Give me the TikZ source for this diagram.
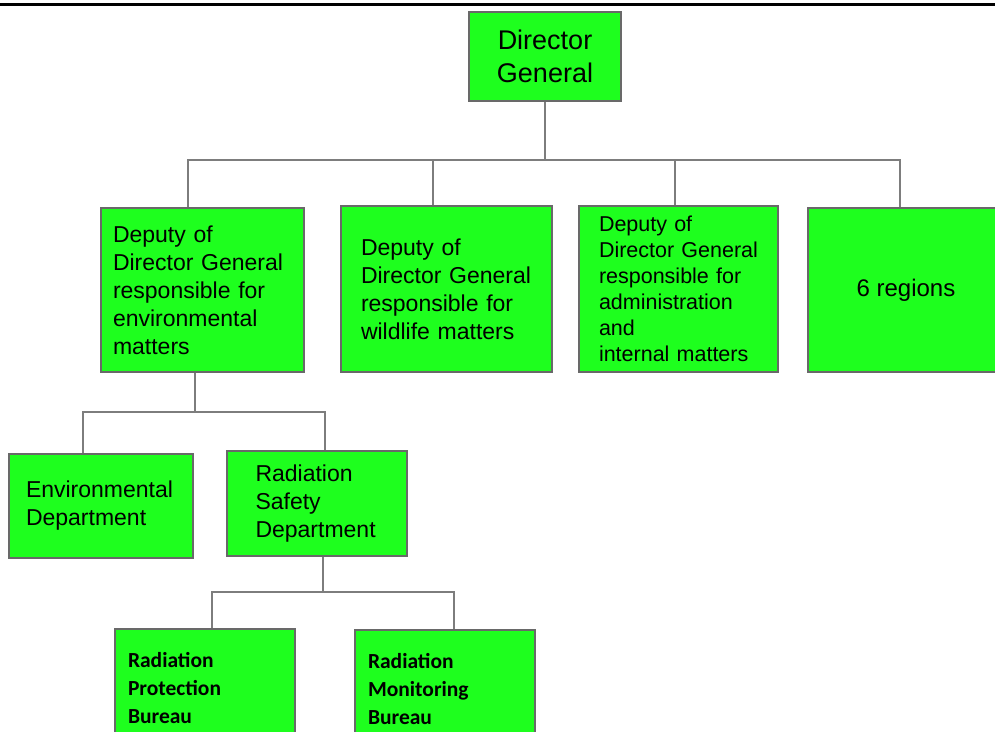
\documentclass[tikz,border=0pt]{standalone}
\usepackage{fontspec}
\setmainfont{Liberation Sans}
\newfontfamily\bureaufont{Carlito}
\usepackage{tikz}
\usetikzlibrary{positioning}
\definecolor{boxgreen}{RGB}{30,255,30}
\definecolor{boxedge}{RGB}{105,105,105}
\definecolor{linkgrey}{RGB}{125,125,125}
\tikzstyle{unit} = [rectangle, draw=boxedge, line width=1.5pt, fill=boxgreen, inner sep=0pt, align=left, font=\fontsize{23}{28}\selectfont]
\tikzstyle{bureau} = [unit, font=\bureaufont\bfseries\fontsize{21.5}{28}\selectfont]
\tikzstyle{link} = [draw=linkgrey, line width=1.8pt]

\begin{document}
\begin{tikzpicture}[x=1pt, y=-1pt]
    \useasboundingbox (0,0) rectangle (995,731);
    \clip (0,0) rectangle (995,731);
    \draw[line width=3pt] (0,4.5) -- (995,4.5);

    \node[unit, align=center, minimum width=152, minimum height=89, font=\fontsize{27}{33}\selectfont] (dg) at (545,56.5) {Director\\General};
    \node[unit, minimum width=203, minimum height=164, text width=179] (envdep) at (202.5,290) {Deputy of\\Director General\\responsible for\\environmental\\matters};
    \node[unit, minimum width=211, minimum height=166, text width=171] (wilddep) at (446.5,289) {Deputy of\\Director General\\responsible for\\wildlife matters};
    \node[unit, minimum width=199, minimum height=166, text width=159, font=\fontsize{21.5}{26}\selectfont] (admindep) at (678.5,289) {Deputy of\\Director General\\responsible for\\administration\\and\\internal matters};
    \node[unit, align=center, minimum width=196, minimum height=164, font=\fontsize{24}{28}\selectfont] (regions) at (906,290) {6 regions};
    \node[unit, minimum width=184, minimum height=104, text width=150] (envdept) at (101,506) {Environmental\\Department};
    \node[unit, minimum width=180, minimum height=105, text width=123] (raddept) at (317,503.5) {Radiation\\Safety\\Department};
    \node[bureau, minimum width=180, minimum height=119, text width=154] (protbur) at (205,688.5) {Radiation\\Protection\\Bureau};
    \node[bureau, minimum width=180, minimum height=118, text width=154] (monbur) at (445,689) {Radiation\\Monitoring\\Bureau};

    \coordinate (topbus) at (545,160);
    \coordinate (midbus) at (195,412);
    \coordinate (lowbus) at (323,592);

    \draw[link] (dg.south) -- (topbus);
    \draw[link] ([xshift=-14.5pt]envdep.north) |- (topbus) -| ([xshift=-6pt]regions.north);
    \draw[link] ([xshift=-13.5pt]wilddep.north) |- (topbus);
    \draw[link] ([xshift=-3.5pt]admindep.north) |- (topbus);
    \draw[link] ([xshift=-7.5pt]envdep.south) -- (midbus);
    \draw[link] ([xshift=-18pt]envdept.north) |- (midbus) -| ([xshift=8pt]raddept.north);
    \draw[link] ([xshift=6pt]raddept.south) -- (lowbus);
    \draw[link] ([xshift=7pt]protbur.north) |- (lowbus) -| ([xshift=9pt]monbur.north);
\end{tikzpicture}
\end{document}
